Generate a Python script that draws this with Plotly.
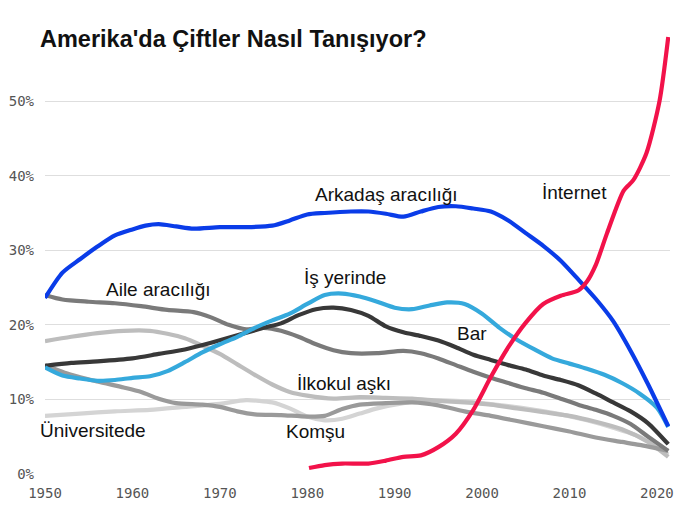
import plotly.graph_objects as go

# ---- data (share of couples, %) ----
friends_x = [1950, 1952, 1954, 1956, 1958, 1960, 1961.5, 1963, 1965, 1967, 1970, 1973, 1976, 1978, 1980, 1982, 1985, 1987, 1989, 1991, 1993, 1995, 1997, 1999, 2001, 2003, 2005, 2007, 2009, 2011, 2013, 2015, 2017, 2019, 2021.3]
friends_y = [23.6, 27.0, 28.8, 30.5, 32.0, 32.8, 33.3, 33.5, 33.2, 32.9, 33.1, 33.1, 33.3, 34.0, 34.8, 35.0, 35.2, 35.2, 34.9, 34.5, 35.2, 35.8, 35.9, 35.6, 35.2, 34.0, 32.3, 30.6, 28.6, 26.1, 23.5, 20.5, 16.5, 12.0, 6.4]

internet_x = [1980.2, 1982, 1984, 1987, 1989, 1991, 1993, 1995, 1997, 1999, 2001, 2003, 2005, 2007, 2009, 2011, 2012, 2013, 2014.3, 2016.2, 2017.3, 2018.8, 2020.3, 2021.3]
internet_y = [0.8, 1.2, 1.4, 1.4, 1.8, 2.3, 2.5, 3.6, 5.4, 8.6, 13.0, 17.0, 20.3, 22.8, 23.9, 24.6, 25.8, 28.0, 32.3, 38.0, 39.4, 43.0, 50.0, 58.6]

work_x = [1950, 1952, 1954, 1956, 1958, 1960, 1962, 1964, 1966, 1968, 1970, 1972, 1974, 1976, 1978, 1980, 1982, 1984, 1986, 1988, 1990, 1992, 1994, 1996, 1998, 2000, 2002, 2004, 2006, 2008, 2010, 2012, 2014, 2016, 2018, 2020, 2021.3]
work_y = [14.3, 13.2, 12.8, 12.5, 12.6, 12.9, 13.1, 13.8, 15.0, 16.3, 17.4, 18.4, 19.6, 20.6, 21.5, 22.8, 24.0, 24.2, 23.8, 23.1, 22.3, 22.1, 22.6, 23.0, 22.8, 21.5, 19.6, 18.0, 16.7, 15.5, 14.8, 14.1, 13.3, 12.2, 10.8, 8.9, 6.3]

bar_x = [1950, 1953, 1956, 1960, 1963, 1966, 1969, 1972, 1975, 1977, 1979, 1981, 1983, 1985, 1987, 1989, 1991, 1993, 1995, 1997, 1999, 2001, 2003, 2005, 2007, 2009, 2011, 2013, 2015, 2017, 2019, 2021.3]
bar_y = [14.5, 14.9, 15.1, 15.5, 16.1, 16.7, 17.6, 18.6, 19.6, 20.2, 21.3, 22.1, 22.3, 22.0, 21.2, 19.8, 19.0, 18.5, 17.9, 17.0, 16.0, 15.3, 14.6, 14.0, 13.2, 12.6, 11.9, 10.8, 9.6, 8.4, 6.8, 4.0]

family_x = [1950, 1952, 1955, 1958, 1961, 1964, 1967, 1969, 1971, 1973, 1975, 1977, 1979, 1981, 1983, 1985, 1988, 1991, 1993, 1995, 1997, 1999, 2001, 2003, 2005, 2007, 2009, 2011, 2013, 2015, 2017, 2019, 2021.3]
family_y = [24.0, 23.4, 23.1, 22.9, 22.5, 22.0, 21.7, 21.0, 20.0, 19.4, 19.6, 19.2, 18.4, 17.4, 16.6, 16.2, 16.2, 16.5, 16.2, 15.5, 14.6, 13.7, 12.9, 12.2, 11.5, 10.9, 10.1, 9.3, 8.6, 7.8, 6.7, 5.0, 3.1]

school_x = [1950, 1953, 1956, 1959, 1962, 1964, 1966, 1968, 1970, 1972, 1974, 1976, 1978, 1980, 1983, 1986, 1989, 1992, 1995, 1998, 2001, 2004, 2007, 2010, 2013, 2016, 2019, 2021.3]
school_y = [17.8, 18.4, 18.9, 19.2, 19.2, 18.8, 18.2, 17.2, 16.1, 14.7, 13.3, 12.0, 11.0, 10.5, 10.1, 10.3, 10.2, 10.1, 9.8, 9.6, 9.3, 8.8, 8.3, 7.8, 7.0, 6.0, 4.3, 2.3]

college_x = [1950, 1954, 1958, 1962, 1966, 1970, 1973, 1976, 1978, 1980, 1982, 1984, 1986, 1988, 1991, 1994, 1997, 2000, 2003, 2006, 2009, 2012, 2015, 2018, 2020, 2021.3]
college_y = [7.8, 8.1, 8.4, 8.6, 9.0, 9.4, 9.9, 9.6, 8.8, 7.7, 7.2, 7.4, 8.1, 8.8, 9.5, 9.9, 9.8, 9.5, 9.1, 8.6, 8.0, 7.2, 6.2, 5.0, 3.5, 2.6]

neigh_x = [1950, 1953, 1956, 1959, 1961, 1963, 1965, 1968, 1970, 1972, 1974, 1977, 1980, 1982, 1984, 1986, 1989, 1992, 1995, 1998, 2001, 2004, 2007, 2010, 2013, 2016, 2018, 2021.3]
neigh_y = [14.6, 13.3, 12.4, 11.6, 11.0, 10.1, 9.5, 9.3, 9.0, 8.4, 8.0, 7.9, 7.7, 7.8, 8.7, 9.3, 9.5, 9.6, 9.2, 8.4, 7.8, 7.1, 6.4, 5.7, 4.9, 4.3, 3.9, 3.1]

x_ticks = [1950, 1960, 1970, 1980, 1990, 2000, 2010, 2020]
y_ticks = [0, 10, 20, 30, 40, 50]
y_tick_text = ["0%", "10%", "20%", "30%", "40%", "50%"]

labels = ["Arkadaş aracılığı", "İnternet", "Aile aracılığı", "İş yerinde", "Bar", "İlkokul aşkı", "Üniversitede", "Komşu"]
label_x = [1989.1, 2010.6, 1963.0, 1984.3, 1998.9, 1984.2, 1955.5, 1981.0]
label_y = [37.5, 37.7, 24.8, 26.3, 18.9, 12.2, 5.8, 5.7]

title_text = "Amerika'da Çiftler Nasıl Tanışıyor?"

series = [
    (college_x, college_y, "#d4d4d4"),
    (school_x, school_y, "#bdbdbd"),
    (neigh_x, neigh_y, "#9a9a9a"),
    (family_x, family_y, "#7a7a7a"),
    (bar_x, bar_y, "#383838"),
    (work_x, work_y, "#35a9dc"),
    (friends_x, friends_y, "#0a3ce8"),
    (internet_x, internet_y, "#f2124a"),
]

fig = go.Figure()
for xs, ys, col in series:
    fig.add_trace(go.Scatter(x=xs, y=ys, mode="lines",
                             line=dict(color=col, width=4.2, shape="spline", smoothing=0.7),
                             hoverinfo="skip", showlegend=False))

for t, lx, ly in zip(labels, label_x, label_y):
    fig.add_annotation(x=lx, y=ly, text=t, showarrow=False, xanchor="center", yanchor="middle",
                       font=dict(family="Liberation Sans, Arial, sans-serif", size=19, color="#111"))

tick_font = dict(family="DejaVu Sans Mono, monospace", size=14, color="#555")

fig.update_layout(
    width=690, height=508,
    margin=dict(l=45, r=20, t=34, b=34),
    paper_bgcolor="white", plot_bgcolor="white",
    title=dict(text="<b>" + title_text + "</b>", x=40 / 690, xanchor="left", xref="container",
               y=1 - 39 / 508, yanchor="middle", yref="container",
               font=dict(family="Liberation Sans, Arial, sans-serif", size=23.5, color="#111")),
    xaxis=dict(range=[1950, 2021.5], tickvals=x_ticks, showgrid=False, zeroline=False, showline=False,
               ticks="", ticklabelstandoff=9, tickfont=tick_font, automargin=False),
    yaxis=dict(range=[0, 59], tickvals=y_ticks, ticktext=y_tick_text, showgrid=True, gridcolor="#dedede",
               gridwidth=1.3, zeroline=False, showline=False, ticks="", ticklabelstandoff=10,
               tickfont=tick_font, automargin=False),
)

fig.write_html("out.html")
